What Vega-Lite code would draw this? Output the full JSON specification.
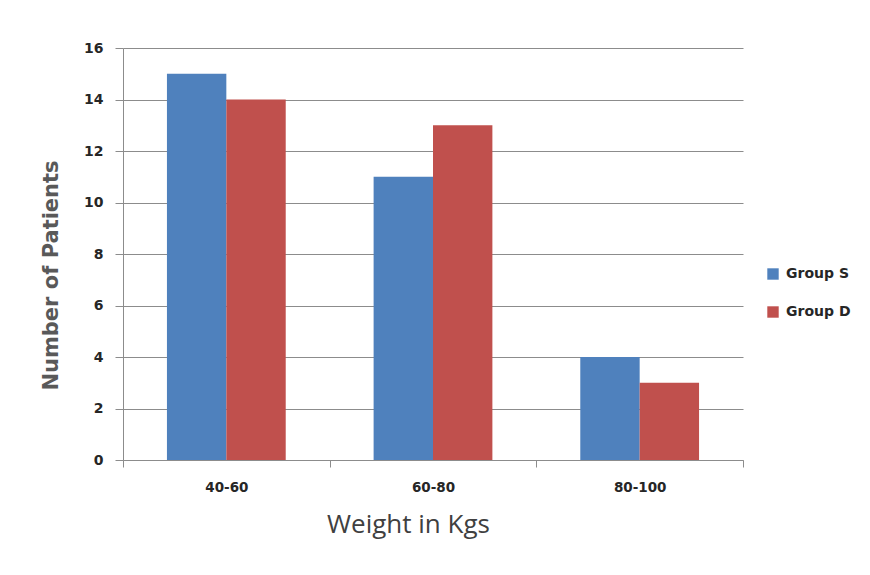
{
  "$schema": "https://vega.github.io/schema/vega-lite/v6.json",
  "width": 620,
  "height": 412,
  "autosize": "none",
  "padding": {"left": 123, "top": 48, "right": 127, "bottom": 115},
  "background": "white",
  "config": {"view": {"stroke": null}},
  "data": {"values": [
    {"weight": "40-60", "group": "Group S", "patients": 15},
    {"weight": "40-60", "group": "Group D", "patients": 14},
    {"weight": "60-80", "group": "Group S", "patients": 11},
    {"weight": "60-80", "group": "Group D", "patients": 13},
    {"weight": "80-100", "group": "Group S", "patients": 4},
    {"weight": "80-100", "group": "Group D", "patients": 3}
  ]},
  "mark": {"type": "bar"},
  "encoding": {
    "x": {
      "field": "weight", "type": "nominal", "sort": ["40-60", "60-80", "80-100"],
      "scale": {"paddingInner": 0, "paddingOuter": 0},
      "axis": {
        "title": "Weight in Kgs", "labelAngle": 0, "tickBand": "extent",
        "labelFont": "DejaVu Sans", "labelFontWeight": "bold", "labelFontSize": 13.5, "labelColor": "#262626",
        "labelPadding": 13,
        "titleFont": "Open Sans", "titleFontSize": 26, "titleFontWeight": "normal", "titleColor": "#404040",
        "titleX": 285, "titleY": 51,
        "domainColor": "#8c8c8c", "tickColor": "#8c8c8c", "tickSize": 7, "grid": false
      }
    },
    "xOffset": {"field": "group", "type": "nominal", "sort": ["Group S", "Group D"],
      "scale": {"paddingInner": 0, "paddingOuter": 0.74}},
    "y": {
      "field": "patients", "type": "quantitative",
      "scale": {"domain": [0, 16]},
      "axis": {
        "title": "Number of Patients", "values": [0, 2, 4, 6, 8, 10, 12, 14, 16],
        "labelFont": "DejaVu Sans", "labelFontWeight": "bold", "labelFontSize": 14, "labelColor": "#262626",
        "labelPadding": 12,
        "titleFont": "DejaVu Sans", "titleFontSize": 21, "titleFontWeight": "bold", "titleColor": "#595959",
        "titleX": -62, "titleY": 227,
        "domainColor": "#8c8c8c", "tickColor": "#8c8c8c", "tickSize": 8,
        "grid": true, "gridColor": "#8c8c8c", "gridWidth": 1
      }
    },
    "color": {
      "field": "group", "type": "nominal", "sort": ["Group S", "Group D"],
      "scale": {"domain": ["Group S", "Group D"], "range": ["#4F81BD", "#C0504D"]},
      "legend": {
        "title": null, "orient": "none", "legendX": 643, "legendY": 219,
        "symbolType": "square", "symbolSize": 130, "symbolStrokeWidth": 0,
        "labelFont": "DejaVu Sans", "labelFontWeight": "bold", "labelFontSize": 14, "labelColor": "#262626",
        "rowPadding": 24, "labelOffset": 6
      }
    }
  }
}
